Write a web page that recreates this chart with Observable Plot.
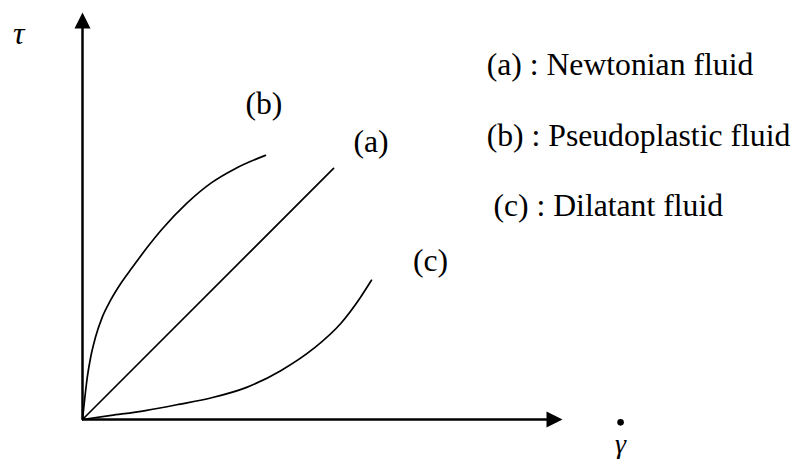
<!DOCTYPE html>
<html>
<head>
<meta charset="utf-8">
<script src="https://cdn.jsdelivr.net/npm/d3@7"></script>
<script src="https://cdn.jsdelivr.net/npm/@observablehq/plot@0.6"></script>
<style>
  html, body { margin: 0; padding: 0; background: #fff; }
  #chart svg text { font-family: "Liberation Serif", "Times New Roman", serif !important; }
</style>
</head>
<body>
<div id="chart"></div>
<script>
// Shear rate (x) and shear stress (y), arbitrary units
const newtonianX = [0, 5.23];
const newtonianY = [0, 6.17];

const pseudoX = [0, 0.05, 0.10, 0.17, 0.27, 0.41, 0.58, 0.79, 1.04, 1.35, 1.66, 2.17, 2.69, 3.19, 3.81];
const pseudoY = [0, 0.55, 1.04, 1.53, 2.02, 2.51, 2.92, 3.33, 3.74, 4.23, 4.68, 5.31, 5.82, 6.17, 6.49];

const dilatantX = [0, 0.60, 1.31, 2.00, 2.71, 3.42, 4.13, 4.81, 5.38, 5.79, 6.02];
const dilatantY = [0, 0.10, 0.22, 0.37, 0.54, 0.79, 1.20, 1.74, 2.36, 3.00, 3.42];

// curve tags next to the curve ends
const tagText = ["(b)", "(a)", "(c)"];
const tagX = [3.78, 6.01, 7.25];
const tagY = [7.76, 6.81, 3.91];

// legend lines
const legendText = ["(a) : Newtonian fluid", "(b) : Pseudoplastic fluid", "(c) : Dilatant fluid"];
const legendX = [8.42, 8.42, 8.56];
const legendY = [8.71, 6.98, 5.26];

const axisMax = 10;

const toRows = (xs, ys) => xs.map((x, i) => ({x, y: ys[i]}));

const upHead = {draw(ctx) { ctx.moveTo(0, 0); ctx.lineTo(8, 16); ctx.lineTo(-8, 16); ctx.closePath(); }};
const rightHead = {draw(ctx) { ctx.moveTo(0, 0); ctx.lineTo(-16, 8); ctx.lineTo(-16, -8); ctx.closePath(); }};

const font = "Liberation Serif";

const chart = Plot.plot({
  width: 797,
  height: 462,
  marginLeft: 82,
  marginRight: 235,
  marginTop: 12,
  marginBottom: 43,
  style: {fontFamily: "Liberation Serif"},
  x: {domain: [0, axisMax], axis: null},
  y: {domain: [0, axisMax], axis: null},
  marks: [
    Plot.ruleX([0], {y1: 0, y2: axisMax - 0.3, stroke: "black", strokeWidth: 2.5}),
    Plot.ruleY([0], {x1: 0, x2: axisMax - 0.3, stroke: "black", strokeWidth: 2.5}),
    Plot.dot([{x: 0, y: axisMax}], {x: "x", y: "y", symbol: upHead, fill: "black", stroke: "none"}),
    Plot.dot([{x: axisMax, y: 0}], {x: "x", y: "y", symbol: rightHead, fill: "black", stroke: "none"}),
    Plot.line(toRows(newtonianX, newtonianY), {x: "x", y: "y", stroke: "black", strokeWidth: 1.7}),
    Plot.line(toRows(pseudoX, pseudoY), {x: "x", y: "y", stroke: "black", strokeWidth: 1.7, curve: "monotone-x"}),
    Plot.line(toRows(dilatantX, dilatantY), {x: "x", y: "y", stroke: "black", strokeWidth: 1.7, curve: "monotone-x"}),
    Plot.text(tagText, {x: (d, i) => tagX[i], y: (d, i) => tagY[i], text: d => d,
      fontFamily: font, fontSize: 31.7, fill: "black", textAnchor: "middle", lineAnchor: "middle"}),
    Plot.text(legendText, {x: (d, i) => legendX[i], y: (d, i) => legendY[i], text: d => d,
      fontFamily: font, fontSize: 31.7, fill: "black", textAnchor: "start", lineAnchor: "middle"}),
    Plot.text(["τ"], {x: -1.33, y: 9.49, text: d => d, fontFamily: font, fontStyle: "italic",
      fontSize: 32, fill: "black", textAnchor: "middle", lineAnchor: "middle"}),
    Plot.dot([{x: 11.21, y: -0.07}], {x: "x", y: "y", r: 3.3, fill: "black", stroke: "none"}),
    Plot.text(["γ"], {x: 11.21, y: -0.60, text: d => d, fontFamily: font, fontStyle: "italic",
      fontSize: 28, fill: "black", textAnchor: "middle", lineAnchor: "middle"})
  ]
});
document.getElementById("chart").appendChild(chart);
</script>
</body>
</html>
